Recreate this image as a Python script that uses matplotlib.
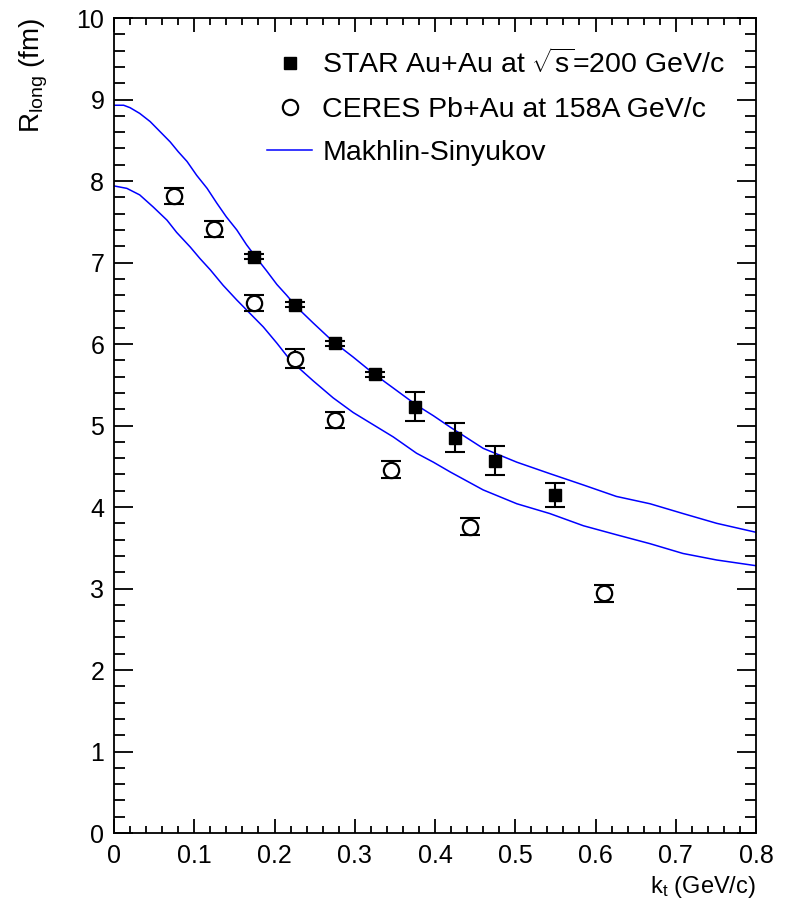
import numpy as np
import matplotlib.pyplot as plt
from matplotlib.ticker import MultipleLocator, FuncFormatter

plt.rcParams["font.family"] = ["Liberation Sans", "DejaVu Sans"]
plt.rcParams["mathtext.fontset"] = "custom"
plt.rcParams["mathtext.rm"] = "Liberation Sans"
plt.rcParams["mathtext.it"] = "Liberation Sans:italic"

# STAR Au+Au points
star_kt = [0.175, 0.225, 0.275, 0.325, 0.375, 0.425, 0.475, 0.55]
star_r = [7.07, 6.48, 6.01, 5.63, 5.23, 4.85, 4.57, 4.15]
star_err = [0.03, 0.03, 0.03, 0.03, 0.18, 0.18, 0.18, 0.15]

# CERES Pb+Au points
ceres_kt = [0.075, 0.125, 0.175, 0.225, 0.275, 0.345, 0.443, 0.61]
ceres_r = [7.82, 7.41, 6.5, 5.82, 5.07, 4.46, 3.76, 2.94]
ceres_err = [0.1, 0.1, 0.1, 0.12, 0.1, 0.1, 0.1, 0.1]

# Makhlin-Sinyukov curves
ms_hi_kt = [0.0, 0.012, 0.02, 0.032, 0.045, 0.057, 0.07, 0.08, 0.091, 0.103,
            0.116, 0.128, 0.14, 0.153, 0.165, 0.178, 0.19, 0.203, 0.215,
            0.228, 0.248, 0.273, 0.298, 0.323, 0.348, 0.377, 0.398, 0.419,
            0.46, 0.502, 0.543, 0.585, 0.626, 0.668, 0.709, 0.751, 0.8]
ms_hi_r = [8.93, 8.93, 8.90, 8.83, 8.73, 8.61, 8.48, 8.36, 8.24, 8.07,
           7.91, 7.73, 7.56, 7.40, 7.22, 7.05, 6.90, 6.73, 6.60,
           6.45, 6.26, 6.03, 5.84, 5.64, 5.46, 5.25, 5.12, 4.98,
           4.72, 4.55, 4.41, 4.27, 4.13, 4.04, 3.92, 3.80, 3.69]
ms_lo_kt = [0.0, 0.016, 0.032, 0.049, 0.066, 0.078, 0.095, 0.107, 0.12,
            0.136, 0.153, 0.169, 0.186, 0.203, 0.215, 0.223, 0.248, 0.273,
            0.298, 0.323, 0.348, 0.377, 0.398, 0.419, 0.46, 0.502, 0.543,
            0.585, 0.626, 0.668, 0.709, 0.751, 0.8]
ms_lo_r = [7.94, 7.91, 7.83, 7.68, 7.52, 7.37, 7.19, 7.05, 6.91,
           6.72, 6.54, 6.38, 6.21, 6.01, 5.86, 5.77, 5.55, 5.34,
           5.16, 5.01, 4.86, 4.66, 4.55, 4.43, 4.21, 4.04, 3.92,
           3.77, 3.66, 3.55, 3.43, 3.35, 3.28]

fig = plt.figure(figsize=(7.88, 9.16), dpi=100)
ax = fig.add_axes([0.1447, 0.0906, 0.8147, 0.8897])

ax.plot(ms_hi_kt, ms_hi_r, color="blue", lw=1.1)
ax.plot(ms_lo_kt, ms_lo_r, color="blue", lw=1.1)

ax.errorbar(star_kt, star_r, yerr=star_err, fmt="none", ecolor="black",
            capsize=7, elinewidth=1.5, capthick=1.5)
ax.errorbar(ceres_kt, ceres_r, yerr=ceres_err, fmt="none", ecolor="black",
            capsize=7, elinewidth=1.5, capthick=1.5)
ax.plot(star_kt, star_r, "s", color="black", ms=8, ls="none",
        label=r"STAR Au+Au at $\sqrt{\rm s}$=200 GeV/c")
ax.plot(ceres_kt, ceres_r, "o", mfc="white", mec="black", ms=11, mew=1.6,
        ls="none", label="CERES Pb+Au at 158A GeV/c")
ax.plot([], [], color="blue", lw=1.1, label="Makhlin-Sinyukov")

ax.set_xlim(0, 0.8)
ax.set_ylim(0, 10)
ax.xaxis.set_major_locator(MultipleLocator(0.1))
ax.xaxis.set_minor_locator(MultipleLocator(0.02))
ax.yaxis.set_major_locator(MultipleLocator(1))
ax.yaxis.set_minor_locator(MultipleLocator(0.2))
ax.xaxis.set_major_formatter(FuncFormatter(lambda v, p: f"{v:g}"))
ax.tick_params(which="both", direction="in", top=True, right=True,
               labelsize=18, width=1.3)
ax.tick_params(axis="x", which="major", length=10, pad=8)
ax.tick_params(axis="x", which="minor", length=5)
ax.tick_params(axis="y", which="major", length=14, pad=7)
ax.tick_params(axis="y", which="minor", length=8)
for s in ax.spines.values():
    s.set_linewidth(1.3)

ax.set_xlabel(r"k$_{\rm t}$ (GeV/c)", fontsize=17, loc="right")
ax.set_ylabel(r"R$_{\rm long}$ (fm)", fontsize=20, loc="top")
ax.yaxis.set_label_coords(-0.1, 1.0)

ax.legend(loc="upper left", bbox_to_anchor=(0.238, 0.962), frameon=False,
          fontsize=20.5, handlelength=1.6, labelspacing=0.62,
          handletextpad=0.35, borderpad=0, borderaxespad=0)

fig.savefig("out.png", dpi=100)
